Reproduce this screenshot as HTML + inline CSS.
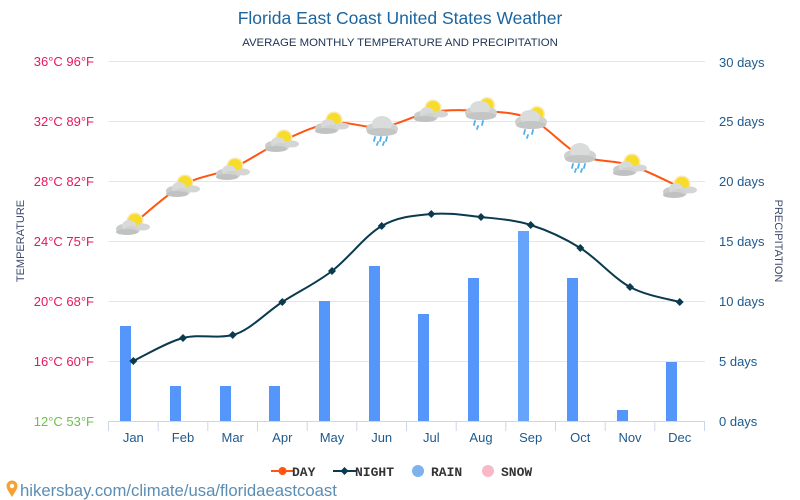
<!DOCTYPE html>
<html><head><meta charset="utf-8"><style>
html,body{margin:0;padding:0;background:#fff;}
body{width:800px;height:500px;overflow:hidden;}
svg{display:block;font-family:"Liberation Sans",sans-serif;}
</style></head><body>
<svg width="800" height="500" viewBox="0 0 800 500" xmlns="http://www.w3.org/2000/svg">
<defs>
<g id="ps">
<circle cx="2" cy="-3" r="8.5" fill="#fbe7b0"/>
<circle cx="2" cy="-3" r="7" fill="#f7dd2a"/>
<ellipse cx="-9" cy="5" rx="8" ry="5" fill="#c9ccca"/>
<ellipse cx="-4" cy="2" rx="7" ry="6" fill="#d8dad9"/>
<ellipse cx="-1" cy="6" rx="8" ry="4" fill="#cfd2d0"/>
<ellipse cx="-6" cy="8" rx="11" ry="3" fill="#bfc2c0"/>
<ellipse cx="10" cy="3" rx="7" ry="3.5" fill="#d4d6d5"/>
</g>
<g id="rc">
<ellipse cx="-7" cy="2" rx="9" ry="6" fill="#cdd0ce"/>
<ellipse cx="7" cy="2" rx="9" ry="6" fill="#cfd2d0"/>
<ellipse cx="0" cy="-3" rx="10" ry="8" fill="#dadcdb"/>
<ellipse cx="0" cy="5" rx="15" ry="4" fill="#c3c6c4"/>
<path d="M-7,10 l-1,4 M-1,10 l-1,4 M5,10 l-1,4 M-4,15 l-1,3 M2,15 l-1,3" stroke="#4fb0ec" stroke-width="1.8" stroke-linecap="round"/>
</g>
<g id="rs">
<circle cx="6" cy="-6" r="8" fill="#fbe7b0"/>
<circle cx="6" cy="-6" r="6.5" fill="#f7dd2a"/>
<ellipse cx="-7" cy="2" rx="9" ry="6" fill="#cdd0ce"/>
<ellipse cx="7" cy="2" rx="9" ry="6" fill="#cfd2d0"/>
<ellipse cx="-1" cy="-3" rx="10" ry="7" fill="#dadcdb"/>
<ellipse cx="0" cy="5" rx="15" ry="4" fill="#c3c6c4"/>
<path d="M-6,10 l-1,4 M2,10 l-1,4 M-3,15 l-1,3" stroke="#4fb0ec" stroke-width="1.8" stroke-linecap="round"/>
</g>
</defs>

<!-- titles -->
<text x="400" y="24" text-anchor="middle" font-size="17.5" fill="#1b65a0">Florida East Coast United States Weather</text>
<text x="400" y="46" text-anchor="middle" font-size="11.4" fill="#1e3553">AVERAGE MONTHLY TEMPERATURE AND PRECIPITATION</text>

<!-- grid -->
<g stroke="#e6e6e6" stroke-width="1">
<line x1="108.5" y1="61.5" x2="705" y2="61.5"/>
<line x1="108.5" y1="121.5" x2="705" y2="121.5"/>
<line x1="108.5" y1="181.5" x2="705" y2="181.5"/>
<line x1="108.5" y1="241.5" x2="705" y2="241.5"/>
<line x1="108.5" y1="301.5" x2="705" y2="301.5"/>
<line x1="108.5" y1="361.5" x2="705" y2="361.5"/>
</g>

<!-- left axis labels -->
<g font-size="13" text-anchor="end" fill="#e8175d">
<text x="94" y="66">36°C 96°F</text>
<text x="94" y="126">32°C 89°F</text>
<text x="94" y="186">28°C 82°F</text>
<text x="94" y="246">24°C 75°F</text>
<text x="94" y="306">20°C 68°F</text>
<text x="94" y="366">16°C 60°F</text>
<text x="94" y="426" fill="#6cc24a">12°C 53°F</text>
</g>
<text transform="translate(24,241) rotate(-90)" text-anchor="middle" font-size="11" fill="#3c4a6b">TEMPERATURE</text>

<!-- right axis labels -->
<g font-size="13" fill="#1d5a8e">
<text x="719" y="67">30 days</text>
<text x="719" y="126">25 days</text>
<text x="719" y="186">20 days</text>
<text x="719" y="246">15 days</text>
<text x="719" y="306">10 days</text>
<text x="719" y="366">5 days</text>
<text x="719" y="426">0 days</text>
</g>
<text transform="translate(775,241) rotate(90)" text-anchor="middle" font-size="11" fill="#3c4a6b">PRECIPITATION</text>

<!-- bars -->
<g fill="#5596fa">
<rect x="120" y="326" width="11" height="95"/>
<rect x="170" y="386" width="11" height="35"/>
<rect x="220" y="386" width="11" height="35"/>
<rect x="269" y="386" width="11" height="35"/>
<rect x="319" y="301" width="11" height="120"/>
<rect x="369" y="266" width="11" height="155"/>
<rect x="418" y="314" width="11" height="107"/>
<rect x="468" y="278" width="11" height="143"/>
<rect x="518" y="231" width="11" height="190" fill="#66a3fb"/>
<rect x="567" y="278" width="11" height="143"/>
<rect x="617" y="410" width="11" height="11"/>
<rect x="666" y="362" width="11" height="59"/>
</g>

<!-- x axis -->
<line x1="108.5" y1="421.5" x2="705" y2="421.5" stroke="#ccd6eb" stroke-width="1"/>
<g stroke="#ccd6eb" stroke-width="1">
<line x1="108.5" y1="421" x2="108.5" y2="431"/>
<line x1="158.2" y1="421" x2="158.2" y2="431"/>
<line x1="207.8" y1="421" x2="207.8" y2="431"/>
<line x1="257.5" y1="421" x2="257.5" y2="431"/>
<line x1="307.2" y1="421" x2="307.2" y2="431"/>
<line x1="356.8" y1="421" x2="356.8" y2="431"/>
<line x1="406.5" y1="421" x2="406.5" y2="431"/>
<line x1="456.2" y1="421" x2="456.2" y2="431"/>
<line x1="505.8" y1="421" x2="505.8" y2="431"/>
<line x1="555.5" y1="421" x2="555.5" y2="431"/>
<line x1="605.2" y1="421" x2="605.2" y2="431"/>
<line x1="654.8" y1="421" x2="654.8" y2="431"/>
<line x1="704.5" y1="421" x2="704.5" y2="431"/>
</g>
<g font-size="13" text-anchor="middle" fill="#1d5a8e">
<text x="133.3" y="442">Jan</text>
<text x="183" y="442">Feb</text>
<text x="232.7" y="442">Mar</text>
<text x="282.3" y="442">Apr</text>
<text x="332" y="442">May</text>
<text x="381.7" y="442">Jun</text>
<text x="431.3" y="442">Jul</text>
<text x="481" y="442">Aug</text>
<text x="530.7" y="442">Sep</text>
<text x="580.3" y="442">Oct</text>
<text x="630" y="442">Nov</text>
<text x="679.7" y="442">Dec</text>
</g>

<!-- night line -->
<path d="M133.3,361 C141.6,357.2 166.4,342.3 183.0,338 C199.6,333.7 216.1,339 232.7,335 C249.3,331 265.7,312.7 282.3,302 C298.9,291.3 315.4,283.7 332.0,271 C348.6,258.3 365.1,235.5 381.7,226 C398.3,216.5 414.7,215.5 431.3,214 C447.9,212.5 464.4,215.2 481.0,217 C497.6,218.8 514.1,219.8 530.7,225 C547.3,230.2 563.7,237.7 580.3,248 C596.9,258.3 613.4,278 630.0,287 C646.6,296 671.4,299.5 679.7,302" fill="none" stroke="#0b3a4f" stroke-width="2"/>
<g fill="#0b3a4f">
<path d="M133.3,357 l4,4 l-4,4 l-4,-4z"/>
<path d="M183,334 l4,4 l-4,4 l-4,-4z"/>
<path d="M232.7,331 l4,4 l-4,4 l-4,-4z"/>
<path d="M282.3,298 l4,4 l-4,4 l-4,-4z"/>
<path d="M332,267 l4,4 l-4,4 l-4,-4z"/>
<path d="M381.7,222 l4,4 l-4,4 l-4,-4z"/>
<path d="M431.3,210 l4,4 l-4,4 l-4,-4z"/>
<path d="M481,213 l4,4 l-4,4 l-4,-4z"/>
<path d="M530.7,221 l4,4 l-4,4 l-4,-4z"/>
<path d="M580.3,244 l4,4 l-4,4 l-4,-4z"/>
<path d="M630,283 l4,4 l-4,4 l-4,-4z"/>
<path d="M679.7,298 l4,4 l-4,4 l-4,-4z"/>
</g>

<!-- day line -->
<path d="M133.3,224 C141.6,217.5 166.4,194.3 183.0,185 C199.6,175.7 216.1,175.3 232.7,168 C249.3,160.7 265.7,148.5 282.3,141 C298.9,133.5 315.4,125.3 332.0,123 C348.6,120.7 365.1,128.8 381.7,127 C398.3,125.2 414.7,114.7 431.3,112 C447.9,109.3 464.4,109.8 481.0,111 C497.6,112.2 514.1,111.7 530.7,119 C547.3,126.3 563.7,147.3 580.3,155 C596.9,162.7 613.4,159.7 630.0,165 C646.6,170.3 671.4,183.3 679.7,187" fill="none" stroke="#ff5511" stroke-width="2"/>

<!-- icons -->
<use href="#ps" x="133" y="224"/>
<use href="#ps" x="183" y="186"/>
<use href="#ps" x="233" y="169"/>
<use href="#ps" x="282" y="141"/>
<use href="#ps" x="332" y="123"/>
<use href="#rc" x="382" y="127"/>
<use href="#ps" x="431" y="111"/>
<use href="#rs" x="481" y="111"/>
<use href="#rs" x="531" y="120"/>
<use href="#rc" x="580" y="154"/>
<use href="#ps" x="630" y="165"/>
<use href="#ps" x="680" y="187"/>

<!-- legend -->
<g font-family="'Liberation Mono',monospace" font-weight="bold" font-size="13" fill="#333">
<line x1="271" y1="471" x2="294" y2="471" stroke="#ff5511" stroke-width="2"/>
<circle cx="282.5" cy="471" r="4" fill="#ff5511"/>
<text x="292" y="476">DAY</text>
<line x1="333" y1="471" x2="356" y2="471" stroke="#0b3a4f" stroke-width="2"/>
<path d="M344.5,467 l4,4 l-4,4 l-4,-4z" fill="#0b3a4f"/>
<text x="355" y="476">NIGHT</text>
<circle cx="418" cy="471" r="6" fill="#7eb2ef"/>
<text x="431" y="476">RAIN</text>
<circle cx="488" cy="471" r="6" fill="#f8b8c8"/>
<text x="501" y="476">SNOW</text>
</g>

<!-- footer -->
<path d="M12,497 C9,492 6.5,489 6.5,486 A5.5,5.5 0 0 1 17.5,486 C17.5,489 15,492 12,497z" fill="#f4a234"/>
<circle cx="12" cy="486" r="2.2" fill="#fff"/>
<text x="20" y="496" font-size="16.7" fill="#5b8db3">hikersbay.com/climate/usa/floridaeastcoast</text>
</svg>
</body></html>
